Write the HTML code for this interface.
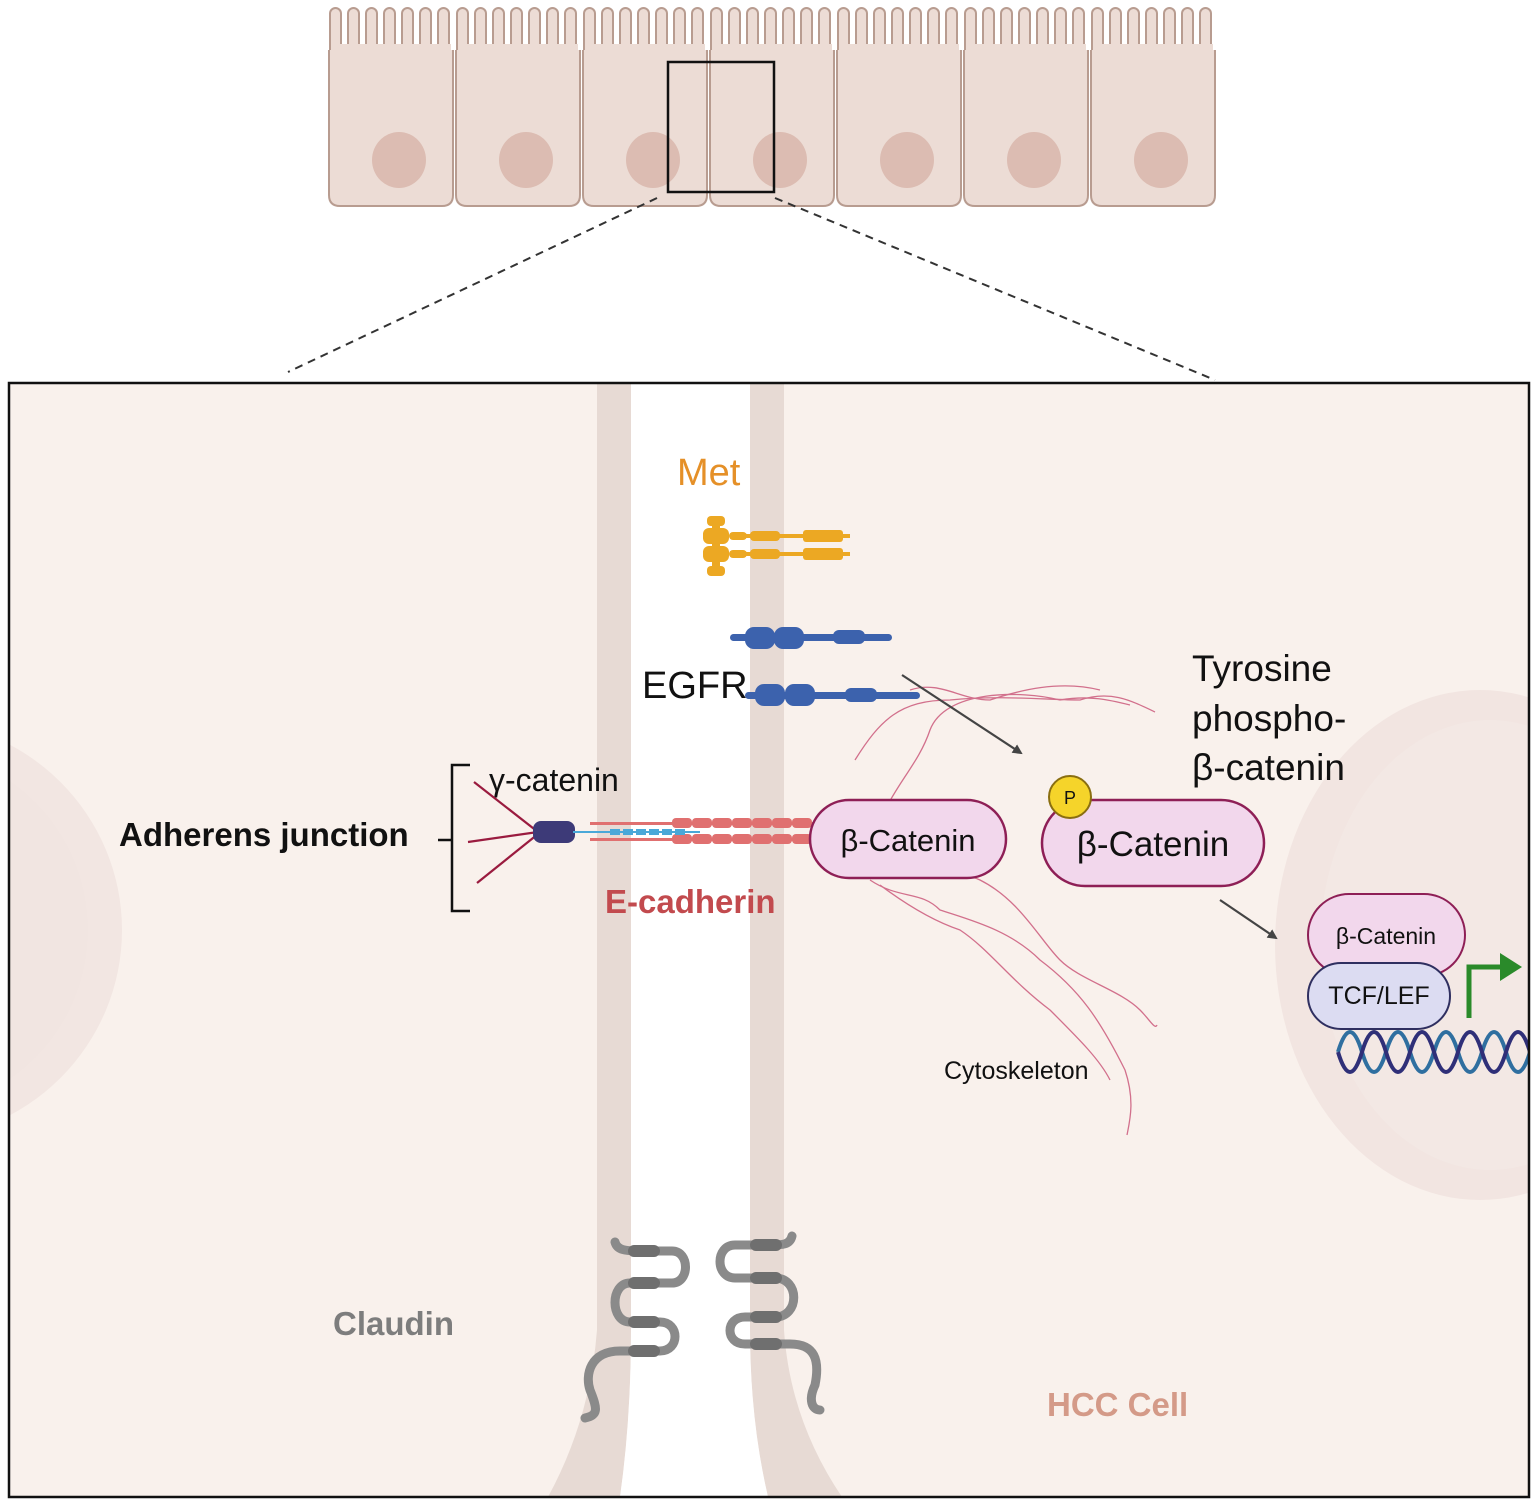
<!DOCTYPE html>
<html><head><meta charset="utf-8"><style>
html,body{margin:0;padding:0;background:#fff}
svg{display:block}
text{font-family:"Liberation Sans",sans-serif}
</style></head><body>
<svg width="1535" height="1502" viewBox="0 0 1535 1502" xmlns="http://www.w3.org/2000/svg">
<defs>
<clipPath id="box"><rect x="9" y="383" width="1520" height="1114"/></clipPath>
<marker id="ah" markerWidth="10" markerHeight="10" refX="8" refY="5" orient="auto" markerUnits="userSpaceOnUse"><path d="M0,0 L10,5 L0,10 Z" fill="#444"/></marker>
<g id="villi">
<rect x="2" y="8" width="11" height="50" rx="5.5" fill="#ecdcd5" stroke="#b89c90" stroke-width="2"/>
<rect x="20" y="8" width="11" height="50" rx="5.5" fill="#ecdcd5" stroke="#b89c90" stroke-width="2"/>
<rect x="38" y="8" width="11" height="50" rx="5.5" fill="#ecdcd5" stroke="#b89c90" stroke-width="2"/>
<rect x="56" y="8" width="11" height="50" rx="5.5" fill="#ecdcd5" stroke="#b89c90" stroke-width="2"/>
<rect x="74" y="8" width="11" height="50" rx="5.5" fill="#ecdcd5" stroke="#b89c90" stroke-width="2"/>
<rect x="92" y="8" width="11" height="50" rx="5.5" fill="#ecdcd5" stroke="#b89c90" stroke-width="2"/>
<rect x="110" y="8" width="11" height="50" rx="5.5" fill="#ecdcd5" stroke="#b89c90" stroke-width="2"/>
<path d="M1,50 V195 Q1,206 12,206 H114 Q125,206 125,195 V50" fill="#ecdcd5" stroke="#b89c90" stroke-width="2"/>
<rect x="3" y="44" width="120" height="12" fill="#ecdcd5"/>
<ellipse cx="71" cy="160" rx="27" ry="28" fill="#dcbcb2"/>
</g>
</defs>

<g>
<use href="#villi" x="328"/>
<use href="#villi" x="455"/>
<use href="#villi" x="582"/>
<use href="#villi" x="709"/>
<use href="#villi" x="836"/>
<use href="#villi" x="963"/>
<use href="#villi" x="1090"/>
</g>
<rect x="668" y="62" width="106" height="130" fill="none" stroke="#111" stroke-width="2.5"/>
<line x1="657" y1="198" x2="288" y2="372" stroke="#333" stroke-width="2" stroke-dasharray="8,6"/>
<line x1="775" y1="198" x2="1215" y2="380" stroke="#333" stroke-width="2" stroke-dasharray="8,6"/>

<g clip-path="url(#box)">
<rect x="9" y="383" width="1520" height="1114" fill="#f9f1ec"/>
<ellipse cx="-90" cy="930" rx="212" ry="210" fill="#f2e6e2"/>
<ellipse cx="-90" cy="930" rx="178" ry="180" fill="#f1e5e1"/>
<ellipse cx="1480" cy="945" rx="205" ry="255" fill="#f2e5e1"/>
<ellipse cx="1490" cy="945" rx="170" ry="225" fill="#f3e8e4"/>
<path d="M597,383 H631 V1330 Q631,1420 620,1497 H548 Q590,1420 597,1330 Z" fill="#e7dad4"/>
<path d="M750,383 H784 V1330 Q790,1420 842,1497 H768 Q750,1420 750,1330 Z" fill="#e7dad4"/>
<path d="M631,383 H750 V1330 Q750,1420 768,1497 H620 Q631,1420 631,1330 Z" fill="#ffffff"/>

<g fill="#eca823">
<rect x="707" y="516" width="18" height="10" rx="4"/>
<rect x="707" y="566" width="18" height="10" rx="4"/>
<rect x="712" y="522" width="8" height="50"/>
<rect x="703" y="528" width="26" height="16" rx="6"/>
<rect x="703" y="546" width="26" height="16" rx="6"/>
<rect x="729" y="532" width="18" height="8" rx="4"/>
<rect x="729" y="550" width="18" height="8" rx="4"/>
<rect x="745" y="534" width="105" height="4"/>
<rect x="745" y="552" width="105" height="4"/>
<rect x="803" y="530" width="40" height="12" rx="3"/>
<rect x="803" y="548" width="40" height="12" rx="3"/>
<rect x="750" y="531" width="30" height="10" rx="4"/>
<rect x="750" y="549" width="30" height="10" rx="4"/>
</g>
<g fill="#3c62ad">
<rect x="730" y="634" width="162" height="7" rx="3.5"/>
<rect x="745" y="627" width="30" height="22" rx="9"/>
<rect x="774" y="627" width="30" height="22" rx="9"/>
<rect x="833" y="630" width="32" height="14" rx="6"/>
<rect x="745" y="692" width="175" height="7" rx="3.5"/>
<rect x="755" y="684" width="30" height="22" rx="9"/>
<rect x="785" y="684" width="30" height="22" rx="9"/>
<rect x="845" y="688" width="32" height="14" rx="6"/>
</g>
<text x="642" y="698" font-size="38" fill="#111">EGFR</text>
<text x="677" y="485" font-size="38" fill="#e59028">Met</text>

<g fill="none" stroke="#d2708c" stroke-width="1.3">
<path d="M855,760 C880,720 900,700 950,700 C1000,695 1050,700 1080,700 C1110,690 1130,700 1155,712"/>
<path d="M885,810 C900,780 920,760 930,730 C945,690 1020,690 1060,700 C1090,695 1110,700 1130,705"/>
<path d="M910,690 C940,680 960,700 990,700 C1020,690 1060,680 1100,690"/>
<path d="M870,880 C900,900 920,890 940,910 C970,920 1010,930 1040,960 C1080,990 1100,1020 1125,1070 C1135,1100 1130,1120 1127,1135"/>
<path d="M900,870 C930,880 960,870 980,880 C1020,900 1040,940 1060,960 C1080,980 1120,990 1140,1010 C1150,1020 1155,1030 1157,1025"/>
<path d="M880,885 C900,900 930,920 960,930 C990,950 1010,980 1050,1010 C1080,1040 1100,1060 1110,1080"/>
</g>
<text x="944" y="1079" font-size="25" fill="#111">Cytoskeleton</text>

<line x1="902" y1="675" x2="1021" y2="753" stroke="#444" stroke-width="2.2" marker-end="url(#ah)"/>
<line x1="1220" y1="900" x2="1276" y2="938" stroke="#444" stroke-width="2.2" marker-end="url(#ah)"/>

<path d="M470,765 H452 V911 H470" fill="none" stroke="#111" stroke-width="2.5"/>
<line x1="438" y1="840" x2="452" y2="840" stroke="#111" stroke-width="2.5"/>
<text x="119" y="846" font-size="33" font-weight="bold" fill="#111">Adherens junction</text>
<text x="489" y="791" font-size="32" fill="#111">γ-catenin</text>
<g stroke="#9a1b3f" stroke-width="2.2">
<line x1="474" y1="782" x2="538" y2="832"/>
<line x1="468" y1="842" x2="538" y2="832"/>
<line x1="477" y1="883" x2="538" y2="834"/>
</g>
<rect x="533" y="821" width="42" height="22" rx="8" fill="#3d3a78"/>
<line x1="573" y1="832" x2="700" y2="832" stroke="#4aa8d8" stroke-width="2"/>
<rect x="590" y="822" width="225" height="3" fill="#e07070"/>
<rect x="590" y="838" width="225" height="3" fill="#e07070"/>
<g fill="#e07070">
<rect x="672" y="818" width="20" height="10" rx="4"/><rect x="692" y="818" width="20" height="10" rx="4"/><rect x="712" y="818" width="20" height="10" rx="4"/><rect x="732" y="818" width="20" height="10" rx="4"/><rect x="752" y="818" width="20" height="10" rx="4"/><rect x="772" y="818" width="20" height="10" rx="4"/><rect x="792" y="818" width="20" height="10" rx="4"/>
<rect x="672" y="834" width="20" height="10" rx="4"/><rect x="692" y="834" width="20" height="10" rx="4"/><rect x="712" y="834" width="20" height="10" rx="4"/><rect x="732" y="834" width="20" height="10" rx="4"/><rect x="752" y="834" width="20" height="10" rx="4"/><rect x="772" y="834" width="20" height="10" rx="4"/><rect x="792" y="834" width="20" height="10" rx="4"/>
</g>
<g fill="#4aa8d8"><rect x="610" y="829" width="10" height="6"/><rect x="623" y="829" width="10" height="6"/><rect x="636" y="829" width="10" height="6"/><rect x="649" y="829" width="10" height="6"/><rect x="662" y="829" width="10" height="6"/><rect x="675" y="829" width="10" height="6"/></g>
<text x="605" y="913" font-size="33" font-weight="bold" fill="#c24a4e">E-cadherin</text>

<rect x="810" y="800" width="196" height="78" rx="39" fill="#f2d7ec" stroke="#8e1f56" stroke-width="2.5"/>
<text x="908" y="851" font-size="31" fill="#111" text-anchor="middle">β-Catenin</text>
<rect x="1042" y="800" width="222" height="86" rx="43" fill="#f2d7ec" stroke="#8e1f56" stroke-width="2.5"/>
<text x="1153" y="856" font-size="35" fill="#111" text-anchor="middle">β-Catenin</text>
<circle cx="1070" cy="797" r="21" fill="#f5d42a" stroke="#8a6e10" stroke-width="2"/>
<text x="1070" y="804" font-size="18" fill="#111" text-anchor="middle">P</text>
<text x="1192" y="681" font-size="37" fill="#111">Tyrosine</text>
<text x="1192" y="731" font-size="37" fill="#111">phospho-</text>
<text x="1192" y="780" font-size="37" fill="#111">β-catenin</text>

<g fill="none" stroke-width="4">
<path d="M1338,1052 q12,-40 24,0 t24,0 t24,0 t24,0 t24,0 t24,0 t24,0 t24,0 t24,0" stroke="#2f6fa0"/>
<path d="M1338,1052 q12,40 24,0 t24,0 t24,0 t24,0 t24,0 t24,0 t24,0 t24,0 t24,0" stroke="#2f2f78"/>
</g>
<rect x="1308" y="894" width="157" height="82" rx="41" fill="#f2d7ec" stroke="#8e1f56" stroke-width="2"/>
<text x="1386" y="944" font-size="23" fill="#111" text-anchor="middle">β-Catenin</text>
<rect x="1308" y="963" width="142" height="66" rx="33" fill="#dcdcf2" stroke="#2f2f60" stroke-width="2"/>
<text x="1379" y="1004" font-size="25" fill="#111" text-anchor="middle">TCF/LEF</text>
<path d="M1469,1018 V967 H1500" fill="none" stroke="#2a8a2a" stroke-width="5"/>
<path d="M1500,953 L1522,967 L1500,981 Z" fill="#2a8a2a"/>

<g fill="none" stroke="#8a8a8a" stroke-width="9" stroke-linecap="round">
<path d="M615,1242 C617,1250 625,1251 640,1251 H672 C690,1251 690,1283 672,1283 H630 C610,1283 610,1322 630,1322 H660 C680,1322 680,1351 660,1351 H620 C590,1351 585,1375 590,1390 C598,1410 598,1415 585,1418"/>
<path d="M792,1236 C790,1245 782,1245 770,1245 H735 C715,1245 715,1278 735,1278 H775 C800,1278 800,1317 775,1317 H745 C725,1317 725,1344 745,1344 H790 C815,1344 820,1360 815,1385 C808,1400 812,1410 820,1410"/>
</g>
<g fill="#6f6f6f">
<rect x="628" y="1245" width="32" height="12" rx="6"/><rect x="628" y="1277" width="32" height="12" rx="6"/><rect x="628" y="1316" width="32" height="12" rx="6"/><rect x="628" y="1345" width="32" height="12" rx="6"/>
<rect x="750" y="1239" width="32" height="12" rx="6"/><rect x="750" y="1272" width="32" height="12" rx="6"/><rect x="750" y="1311" width="32" height="12" rx="6"/><rect x="750" y="1338" width="32" height="12" rx="6"/>
</g>
<text x="333" y="1335" font-size="33" font-weight="bold" fill="#7d7d7d">Claudin</text>
<text x="1047" y="1416" font-size="33" font-weight="bold" fill="#d49a88">HCC Cell</text>
</g>
<rect x="9" y="383" width="1520" height="1114" fill="none" stroke="#111" stroke-width="2.5"/>
</svg>
</body></html>
